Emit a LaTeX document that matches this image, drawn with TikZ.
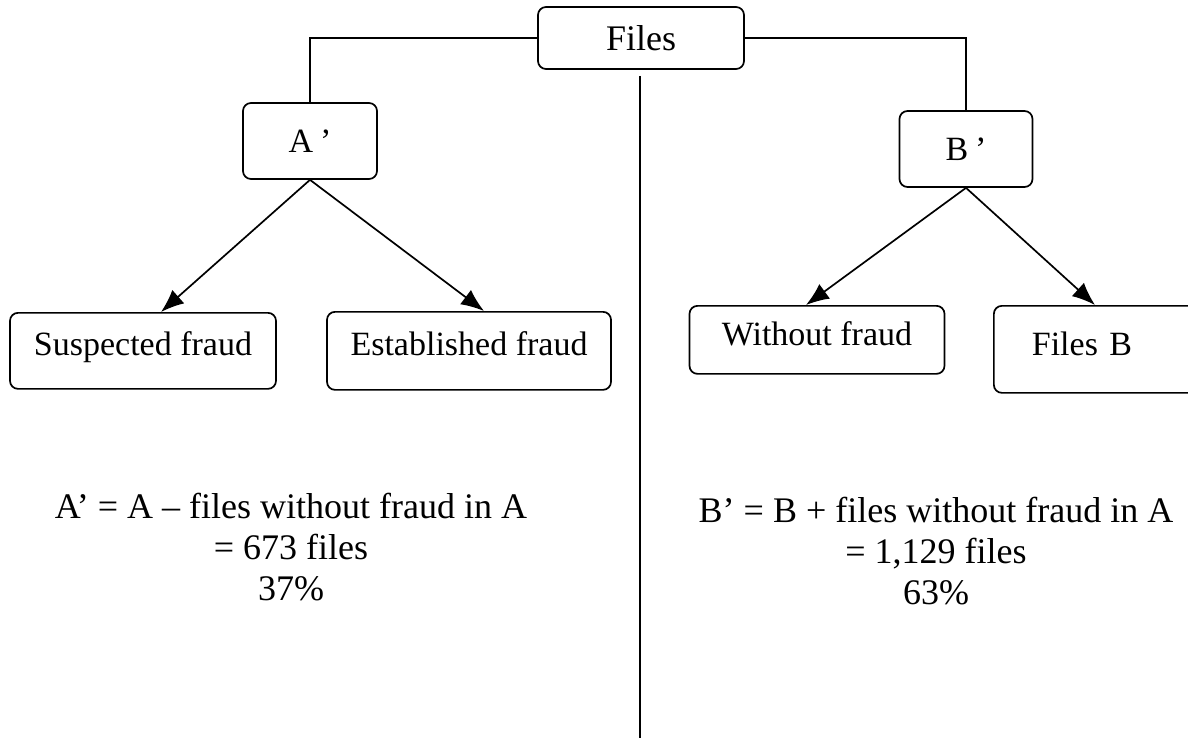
\documentclass[tikz,border=0pt]{standalone}
\usepackage{fontspec}
\setmainfont{Liberation Serif}
\usetikzlibrary{arrows.meta}

\tikzset{
  filebox/.style={draw,rounded corners=8pt,inner xsep=0pt,inner ysep=0pt,font=\fontsize{34}{40}\selectfont},
  lowbox/.style={filebox,anchor=north,text height=#1},
  sumtext/.style={font=\fontsize{36}{41}\selectfont,align=center,inner sep=0pt,anchor=base}
}

\begin{document}
\begin{tikzpicture}[x=1pt,y=-1pt,line width=1.7pt,>={Latex[length=23pt,width=18pt]}]%
\useasboundingbox (0,0) rectangle (1188,738);
\node [filebox,font=\fontsize{36}{40}\selectfont,minimum width=206pt,minimum height=62pt] (Files) at (641,38) {Files};
\node [filebox,minimum width=134pt,minimum height=76pt] (Ap) at (310,141) {A\hspace{7pt}’};
\node [filebox,minimum width=133pt,minimum height=76pt] (Bp) at (966,149) {B\hspace{7pt}’};
\node [lowbox=43pt,text depth=33pt,minimum width=266pt] (Susp) at (143,312) {Suspected fraud};
\node [lowbox=44pt,text depth=34pt,minimum width=284pt] (Estab) at (469,311) {Established fraud};
\node [lowbox=40pt,text depth=28pt,minimum width=255pt] (Without) at (817,305) {Without fraud};
\node [filebox,anchor=north west,text height=50pt,text depth=37pt,text width=190pt,inner xsep=38pt,align=left] (FilesB) at (993,305) {Files B};
\coordinate (Bottom) at (640,738);
% tree
\draw (Files.west) -| (Ap.north);
\draw (Files.east) -| (Bp.north);
\draw ([yshift=-6pt]Files.south -| Bottom) -- (Bottom);
\draw [->] (Ap.south) -- (Susp.north -| 161,0);
\draw [->] (Ap.south) -- (Estab.north -| 484,0);
\draw [->] (Bp.south) -- (Without.north -| 806,0);
\draw [->] (Bp.south) -- (FilesB.north -| 1095,0);
% totals
\node [sumtext] (SumA) at (291,600) {A’ = A – files without fraud in A\\= 673 files\\37\%};
\node [sumtext] (SumB) at (936,604) {B’ = B + files without fraud in A\\= 1,129 files\\63\%};
\end{tikzpicture}
\end{document}
